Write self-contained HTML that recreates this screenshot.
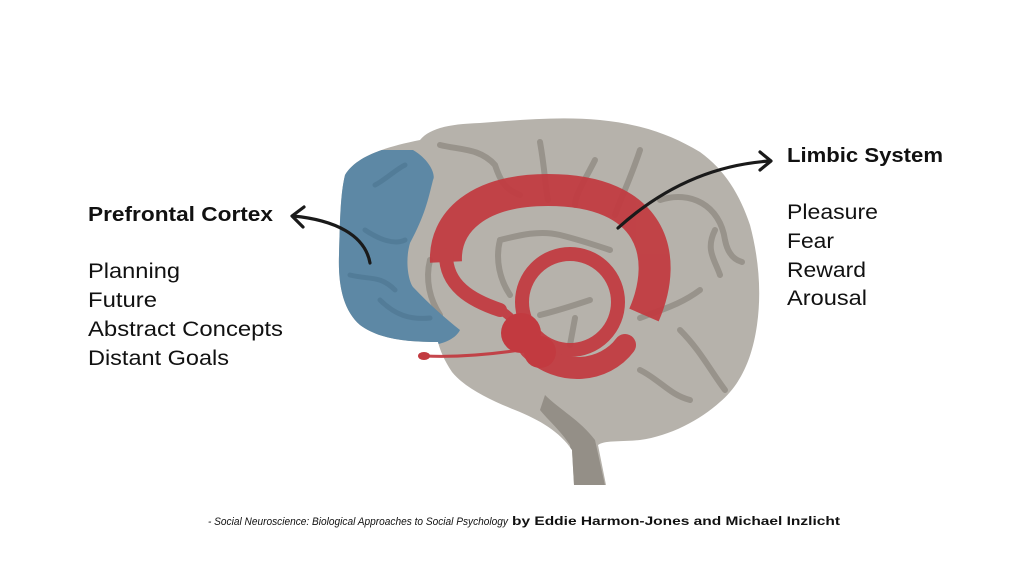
<!DOCTYPE html>
<html><head><meta charset="utf-8"><style>
html,body{margin:0;padding:0;background:#fff;width:1024px;height:576px;overflow:hidden}
svg{display:block}
text{font-family:"Liberation Sans",sans-serif;fill:#111}
</style></head><body>
<svg width="1024" height="576" viewBox="0 0 1024 576" xmlns="http://www.w3.org/2000/svg">
<defs>
<clipPath id="brain"><path d="M345 175 C355 158 380 148 420 140 C430 128 450 124 480 123 C520 120 560 116 600 120 C640 124 670 134 700 152 C725 170 740 195 750 225 C758 255 762 290 757 325 C752 360 740 385 720 402 C700 420 670 436 640 440 C620 442 605 440 598 445 L606 485 L574 485 L572 450 C560 432 540 420 515 410 C490 400 465 388 452 372 C444 360 440 350 438 342 C410 342 380 340 360 325 C343 310 338 285 339 255 C340 225 340 195 345 175 Z"/></clipPath>
</defs>
<path d="M345 175 C355 158 380 148 420 140 C430 128 450 124 480 123 C520 120 560 116 600 120 C640 124 670 134 700 152 C725 170 740 195 750 225 C758 255 762 290 757 325 C752 360 740 385 720 402 C700 420 670 436 640 440 C620 442 605 440 598 445 L606 485 L574 485 L572 450 C560 432 540 420 515 410 C490 400 465 388 452 372 C444 360 440 350 438 342 C410 342 380 340 360 325 C343 310 338 285 339 255 C340 225 340 195 345 175 Z" fill="#b6b2ab"/>
<g clip-path="url(#brain)">
<g fill="none" stroke="#98938b" stroke-width="6" stroke-linecap="round">
<path d="M440 145 C460 150 480 148 495 165 C500 180 505 190 520 195"/>
<path d="M540 142 C545 170 545 185 548 200"/>
<path d="M595 160 C585 180 575 195 575 205"/>
<path d="M640 150 C630 180 620 200 615 215"/>
<path d="M660 200 C690 190 720 205 725 240 C728 255 735 260 742 262"/>
<path d="M715 230 C705 250 715 260 720 275"/>
<path d="M700 290 C680 305 660 310 640 318"/>
<path d="M680 330 C700 350 710 370 725 390"/>
<path d="M500 240 C520 235 540 230 560 235 C580 240 595 245 610 250"/>
<path d="M500 240 C495 260 500 280 510 295"/>
<path d="M540 315 C560 310 575 305 590 300"/>
<path d="M575 318 L570 345"/>
<path d="M640 370 C660 380 670 395 690 400"/>
<path d="M430 260 C425 280 430 300 440 315"/>
</g>
<path d="M545 395 C560 410 580 420 595 440 L606 490 L574 490 L570 445 C560 430 548 420 540 410 Z" fill="#948f87"/>
<path d="M330 150 L413 150 C430 160 436 175 433 180 C428 200 425 215 410 243 C405 260 408 280 413 287 C430 305 445 318 460 330 C455 340 440 345 430 345 L330 345 Z" fill="#5d88a5"/>
<g fill="none" stroke="#4f7893" stroke-width="5" stroke-linecap="round" opacity="0.7">
<path d="M375 185 C385 180 395 170 405 165"/>
<path d="M365 230 C380 240 395 245 405 240"/>
<path d="M350 275 C370 280 380 275 395 290"/>
<path d="M380 300 C395 315 410 320 430 318"/>
</g>
</g>
<g fill="none" stroke="#c23a40" stroke-linecap="round" opacity="0.93">
<path d="M644 315 C670 255 652 190 548 190 C478 190 444 222 446 262" stroke-width="32" stroke-linecap="butt"/>
<path d="M446 255 C446 285 470 300 500 310" stroke-width="14"/>
<path d="M500 310 C510 315 515 322 518 330" stroke-width="9"/>
<circle cx="570" cy="302" r="48" stroke-width="14"/>
<path d="M530 348 C560 378 605 372 625 345" stroke-width="22"/>
<path d="M520 350 C480 356 450 357 425 356" stroke-width="3"/>
</g>
<g fill="#c23a40">
<circle cx="521" cy="333" r="20"/>
<circle cx="540" cy="352" r="16"/>
<ellipse cx="424" cy="356" rx="6" ry="4"/>
</g>
<g fill="none" stroke="#1a1a1a" stroke-width="3.2" stroke-linecap="round" stroke-linejoin="round">
<path d="M370 263 C365 235 335 220 293 216"/>
<path d="M304 207 L292 216 L303 227"/>
<path d="M618 228 C660 190 710 165 770 161"/>
<path d="M760 152 L771 161 L760 170"/>
</g>
<text x="88" y="221" font-size="20" font-weight="bold" textLength="185" lengthAdjust="spacingAndGlyphs">Prefrontal Cortex</text>
<text x="88" y="278" font-size="21" textLength="92" lengthAdjust="spacingAndGlyphs">Planning</text>
<text x="88" y="307" font-size="21" textLength="69" lengthAdjust="spacingAndGlyphs">Future</text>
<text x="88" y="336" font-size="21" textLength="195" lengthAdjust="spacingAndGlyphs">Abstract Concepts</text>
<text x="88" y="365" font-size="21" textLength="141" lengthAdjust="spacingAndGlyphs">Distant Goals</text>
<text x="787" y="162" font-size="20" font-weight="bold" textLength="156" lengthAdjust="spacingAndGlyphs">Limbic System</text>
<text x="787" y="219" font-size="21" textLength="91" lengthAdjust="spacingAndGlyphs">Pleasure</text>
<text x="787" y="248" font-size="21" textLength="47" lengthAdjust="spacingAndGlyphs">Fear</text>
<text x="787" y="277" font-size="21" textLength="79" lengthAdjust="spacingAndGlyphs">Reward</text>
<text x="787" y="305" font-size="21" textLength="80" lengthAdjust="spacingAndGlyphs">Arousal</text>
<text x="208" y="525" font-size="11" font-style="italic" fill="#222" textLength="300" lengthAdjust="spacingAndGlyphs">- Social Neuroscience: Biological Approaches to Social Psychology</text>
<text x="512" y="525" font-size="11.5" font-weight="bold" fill="#222" textLength="328" lengthAdjust="spacingAndGlyphs">by Eddie Harmon-Jones and Michael Inzlicht</text>
</svg>
</body></html>
